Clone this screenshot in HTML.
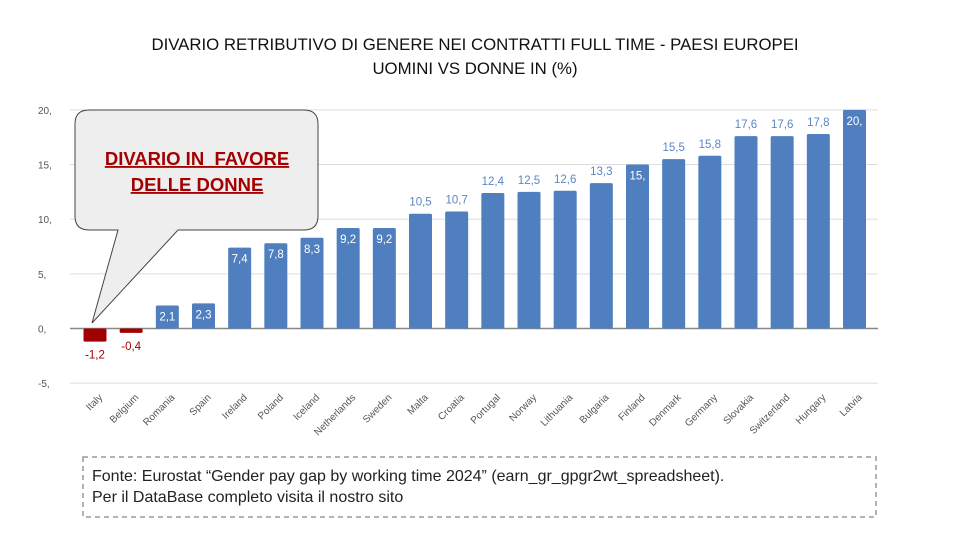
<!DOCTYPE html>
<html><head><meta charset="utf-8"><style>
body{margin:0;background:#fff;font-family:"Liberation Sans",sans-serif}
svg{display:block}
</style></head><body>
<svg width="960" height="540">
<text x="475" y="50" text-anchor="middle" font-size="16.8" fill="#111">DIVARIO RETRIBUTIVO DI GENERE NEI CONTRATTI FULL TIME - PAESI EUROPEI</text>
<text x="475" y="74" text-anchor="middle" font-size="16.8" fill="#111">UOMINI VS DONNE IN (%)</text>
<g id="grid"></g><g id="bars"></g><g id="labels"></g>
<g>
<path d="M88,110 H304 Q318,110 318,124 V216 Q318,230 304,230 H178 L92,323 L118,230 H89 Q75,230 75,216 V124 Q75,110 89,110 Z" fill="#eeeeee" stroke="#444" stroke-width="1"/>
<text x="197" y="165" text-anchor="middle" font-size="18.5" font-weight="bold" fill="#a50000" text-decoration="underline" xml:space="preserve">DIVARIO IN  FAVORE</text>
<text x="197" y="191" text-anchor="middle" font-size="18.5" font-weight="bold" fill="#a50000" text-decoration="underline">DELLE DONNE</text>
</g>
<g>
<rect x="83" y="457" width="793" height="60" fill="none" stroke="#999" stroke-width="1.5" stroke-dasharray="5,4"/>
<text x="92" y="481" font-size="16" fill="#222">Fonte: Eurostat “Gender pay gap by working time 2024” (earn_gr_gpgr2wt_spreadsheet).</text>
<text x="92" y="502" font-size="16" fill="#222">Per il DataBase completo visita il nostro sito</text>
</g>
</svg>
<script>
const categories=["Italy","Belgium","Romania","Spain","Ireland","Poland","Iceland","Netherlands","Sweden","Malta","Croatia","Portugal","Norway","Lithuania","Bulgaria","Finland","Denmark","Germany","Slovakia","Switzerland","Hungary","Latvia"];
const values=[-1.2,-0.4,2.1,2.3,7.4,7.8,8.3,9.2,9.2,10.5,10.7,12.4,12.5,12.6,13.3,15,15.5,15.8,17.6,17.6,17.8,20];
const yTicks=[20,15,10,5,0,-5];
</script>
<script>
(function(){
const NS="http://www.w3.org/2000/svg";
const n=values.length;
const x0=70,x1=878;
const y=v=>328.5-v*10.93;
const xc=i=>95+i*(854.5-95)/(n-1);
const fmt=v=>{let s=v.toString().replace('.',',');return Number.isInteger(v)?s+',':s;};
function mk(t,a,p){const e=document.createElementNS(NS,t);for(const k in a)e.setAttribute(k,a[k]);p.appendChild(e);return e;}
const g=document.getElementById('grid'),b=document.getElementById('bars'),l=document.getElementById('labels');
yTicks.forEach(t=>{
const ln=mk('line',{x1:x0,x2:x1,y1:y(t),y2:y(t),stroke:t===0?'#888':'#ddd','stroke-width':t===0?1.5:1},g);


const tx=mk('text',{x:38,y:y(t)+4,'font-size':10,fill:'#555'},g);tx.textContent=t+',';


});
values.forEach((v,i)=>{
const neg=v<0,c=xc(i),w=23;
const top=Math.min(y(v),y(0)),h=Math.abs(y(v)-y(0));
const r=mk('rect',{x:c-w/2,y:top,width:w,height:h,rx:1.5,fill:neg?'#a00000':'#4f7fbe'},b);


const inside=!neg&&(v<10||Number.isInteger(v));
let ly,col;
if(neg){ly=y(v)+17;col='#a00000';}
else if(inside){ly=y(v)+15;col='#fff';}
else{ly=y(v)-8;col='#5b86c4';}
const t=mk('text',{x:c,y:ly,'text-anchor':'middle','font-size':11.5,fill:col},l);t.textContent=fmt(v);


const cl=mk('text',{x:c+8,y:398,'text-anchor':'end','font-size':10,fill:'#555',transform:'rotate(-45 '+(c+8)+' 398)'},l);cl.textContent=categories[i];


});
})();
</script>
</body></html>
